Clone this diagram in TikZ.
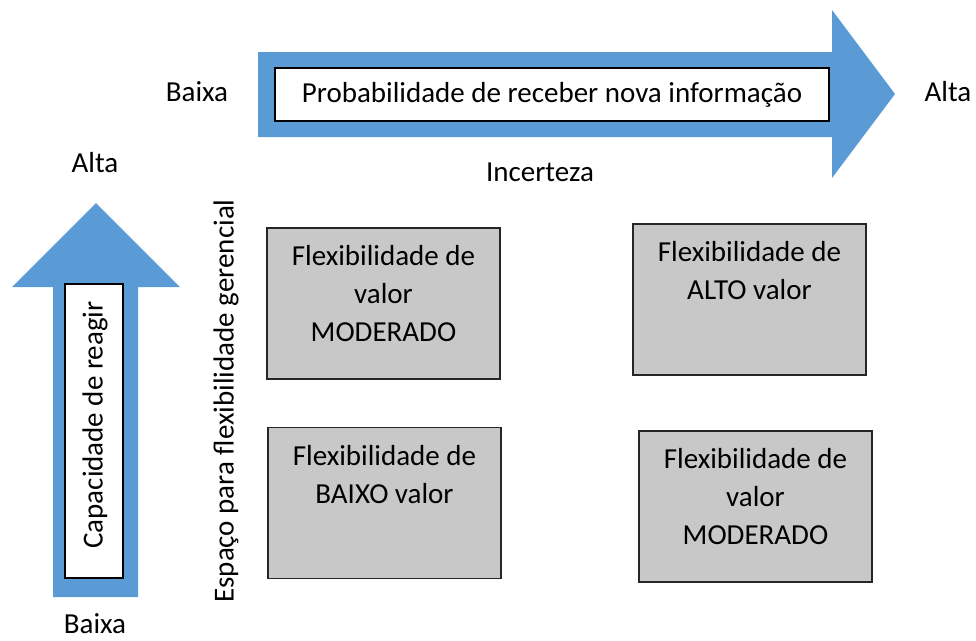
\documentclass[tikz,border=0pt]{standalone}
\usepackage{fontspec}
\setmainfont{Carlito}
\definecolor{setaazul}{HTML}{5B9BD5}
\definecolor{caixacinza}{HTML}{C8C8C8}
\tikzset{
  rot/.style={font=\fontsize{29}{38}\selectfont, inner sep=0pt},
  quadro/.style={draw=black!85, line width=1.6pt, fill=caixacinza, minimum width=233pt, minimum height=151pt, inner sep=0pt},
  texto/.style={rot, align=center, anchor=north}
}
\begin{document}
\begin{tikzpicture}[x=1pt,y=-1pt]
     \useasboundingbox (0,0) rectangle (976,640);
     % setas
     \fill [setaazul] (258,52) -- (832,52) -- (832,10) -- (895,94) -- (832,178) -- (832,137) -- (258,137) -- cycle;
     \fill [setaazul] (53,597) -- (53,287) -- (12,287) -- (96,203) -- (180,287) -- (138,287) -- (138,597) -- cycle;
     \node[draw=black, line width=1.4pt, fill=white, minimum width=554pt, minimum height=53pt, inner sep=0pt] (prob) at (552,94.5) {};
     \node[draw=black, line width=1.4pt, fill=white, minimum width=58pt, minimum height=294pt, inner sep=0pt] (cap) at (94,431) {};
     \node[rot] (probtxt) at (prob.center) {Probabilidade de receber nova informação};
     \node[rot, rotate=90] (captxt) at (95,425) {Capacidade de reagir};
     % rotulos
     \node[rot] (baixa1) at (197,92) {Baixa};
     \node[rot] (alta1) at (948,92) {Alta};
     \node[rot] (incerteza) at (540,172) {Incerteza};
     \node[rot] (alta2) at (95,163) {Alta};
     \node[rot] (baixa2) at (95,624) {Baixa};
     \node[rot, rotate=90] (espaco) at (226,401) {Espaço para flexibilidade gerencial};
     % quadros
     \node[quadro] (q1) at (383.5,303.5) {};
     \node[quadro] (q2) at (749.5,299.5) {};
     \node[quadro] (q3) at (384.5,503) {};
     \node[quadro] (q4) at (755.5,506.5) {};
     \node[texto] (t1) at ([yshift=-18pt]q1.north) {Flexibilidade de\\valor\\MODERADO};
     \node[texto] (t2) at ([yshift=-18pt]q2.north) {Flexibilidade de\\ALTO valor};
     \node[texto] (t3) at ([yshift=-18pt]q3.north) {Flexibilidade de\\BAIXO valor};
     \node[texto] (t4) at ([yshift=-18pt]q4.north) {Flexibilidade de\\valor\\MODERADO};
\end{tikzpicture}
\end{document}
